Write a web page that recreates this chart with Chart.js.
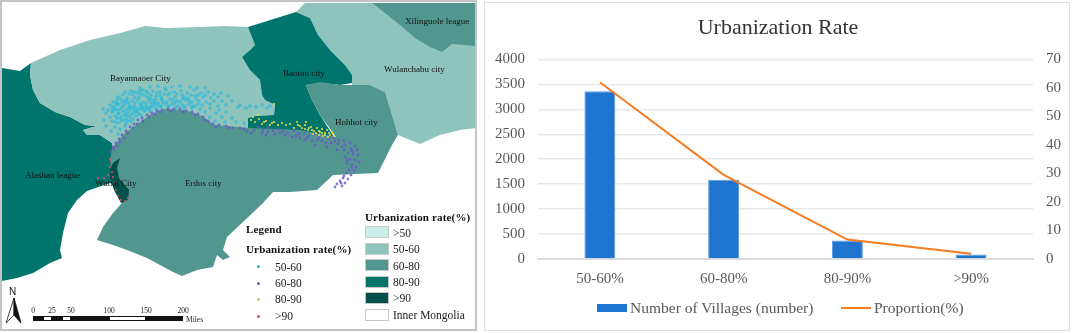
<!DOCTYPE html>
<html lang="en">
<head>
<meta charset="UTF-8">
<title>Urbanization Rate</title>
<script src="https://cdn.jsdelivr.net/npm/chart.js"></script>
<style>
    html, body { margin: 0; padding: 0; background: #fff; }
    body { width: 1072px; height: 333px; position: relative; overflow: hidden; font-family: "Liberation Serif", serif; }
    #mapBox { position: absolute; left: 0; top: 0; width: 477px; height: 331px; box-sizing: border-box; border: 2px solid #c4c4c4; }
    #chartBox { position: absolute; left: 484px; top: 2px; width: 586px; height: 329px; box-sizing: border-box; border: 1px solid #dedede; }
    canvas { position: absolute; left: 0; top: 0; }
    .t { position: absolute; transform: translateY(-50%); white-space: nowrap; color: #111; font-size: 9px; }
    .l { font-size: 11.5px; color: #222; }
    .b { font-weight: bold; font-size: 11px; color: #111; letter-spacing: .15px; }
    .sw { position: absolute; left: 365px; width: 24px; height: 12px; box-sizing: border-box; border: 1px solid #c8c8c8; }
    .dot { position: absolute; left: 257px; width: 3px; height: 3px; border-radius: 50%; }
    .seg { position: absolute; top: 316px; height: 5px; box-sizing: border-box; border: 1px solid #111; }
    .s { font-size: 7.5px; transform: translate(-50%, -50%); color: #222; }
    .g { font-size: 15.5px; color: #595959; }
</style>
</head>
<body>
<canvas id="mapChart" width="484" height="333"></canvas>
<div id="mapBox"></div>

<div class="t" style="left:110px;top:78px">Bayannaoer City</div>
<div class="t" style="left:283px;top:73px">Baotou city</div>
<div class="t" style="left:384px;top:69px">Wulanchabu city</div>
<div class="t" style="left:405px;top:21px">Xilinguole league</div>
<div class="t" style="left:335px;top:122px">Hohhot city</div>
<div class="t" style="left:25px;top:175px">Alashan league</div>
<div class="t" style="left:95px;top:183px">Wuhai City</div>
<div class="t" style="left:185px;top:183px">Erdos city</div>

<div class="t b" style="left:246px;top:229px">Legend</div>
<div class="t b" style="left:246px;top:249px">Urbanization rate(%)</div>
<div class="dot" style="top:265px;background:#19b9dc"></div><div class="t l" style="left:275px;top:267px">50-60</div>
<div class="dot" style="top:282px;background:#6a55c8"></div><div class="t l" style="left:275px;top:283px">60-80</div>
<div class="dot" style="top:298px;background:#c9c84a"></div><div class="t l" style="left:275px;top:299px">80-90</div>
<div class="dot" style="top:315px;background:#ea4a68"></div><div class="t l" style="left:275px;top:316px">&gt;90</div>

<div class="t b" style="left:365px;top:217px">Urbanization rate(%)</div>
<div class="sw" style="top:226px;background:#c9efe8"></div><div class="t l" style="left:393px;top:233px">&gt;50</div>
<div class="sw" style="top:243px;background:#8fc4bd"></div><div class="t l" style="left:393px;top:249px">50-60</div>
<div class="sw" style="top:259px;background:#52978f"></div><div class="t l" style="left:393px;top:266px">60-80</div>
<div class="sw" style="top:276px;background:#00756c"></div><div class="t l" style="left:393px;top:282px">80-90</div>
<div class="sw" style="top:292px;background:#02504a"></div><div class="t l" style="left:393px;top:298px">&gt;90</div>
<div class="sw" style="top:309px;background:#fff"></div><div class="t l" style="left:393px;top:315px">Inner Mongolia</div>

<div class="t" style="left:9px;top:291px;font-size:10px;font-family:'Liberation Sans',sans-serif">N</div>
<svg style="position:absolute;left:6px;top:298px" width="16" height="26">
    <polygon points="8,0 0,25 8,17" fill="#fff" stroke="#111" stroke-width=".8"/>
    <polygon points="8,0 15,25 8,17" fill="#111" stroke="#111" stroke-width=".8"/>
</svg>

<div class="seg" style="left:33px;width:10px;background:#111"></div>
<div class="seg" style="left:43px;width:9px;background:#fff"></div>
<div class="seg" style="left:52px;width:10px;background:#111"></div>
<div class="seg" style="left:62px;width:9px;background:#fff"></div>
<div class="seg" style="left:71px;width:38px;background:#111"></div>
<div class="seg" style="left:109px;width:37px;background:#fff"></div>
<div class="seg" style="left:146px;width:37px;background:#111"></div>
<div class="t s" style="left:33px;top:310px">0</div>
<div class="t s" style="left:52px;top:310px">25</div>
<div class="t s" style="left:71px;top:310px">50</div>
<div class="t s" style="left:109px;top:310px">100</div>
<div class="t s" style="left:146px;top:310px">150</div>
<div class="t s" style="left:183px;top:310px">200</div>
<div class="t" style="left:186px;top:319px;font-size:7.5px;color:#222">Miles</div>

<div id="chartBox"></div>
<canvas id="rateChart" width="588" height="333" style="left:484px"></canvas>

<div style="position:absolute;left:597px;top:304px;width:30px;height:8px;background:#1f74d0"></div>
<div class="t g" style="left:630px;top:308px">Number of Villages (number)</div>
<div style="position:absolute;left:841px;top:307px;width:30px;height:2px;background:#f57c1f"></div>
<div class="t g" style="left:874px;top:308px">Proportion(%)</div>

<script>
// bar + line chart
const categories = ['50-60%', '60-80%', '80-90%', '>90%'];
const villages = [3360, 1590, 370, 90];
const proportion = [62, 29.5, 6.8, 1.8];

// map regions, in map units of the picture
const alashan = [[2,68],[20,71],[31,63],[30,75],[33,90],[40,103],[55,112],[70,117],[85,125],[97,126],[83,130],[87,135],[100,135],[112,143],[115,160],[122,185],[110,183],[87,191],[77,200],[68,213],[63,233],[60,250],[62,258],[50,263],[33,273],[17,278],[2,281]];
const bayannaoer = [[31,63],[60,50],[90,40],[120,33],[145,26],[165,28],[200,27],[225,26],[248,27],[255,45],[250,50],[242,57],[250,70],[260,80],[262,95],[265,100],[275,105],[274,115],[255,116],[248,118],[248,131],[235,130],[215,130],[200,120],[185,115],[165,114],[150,120],[135,130],[125,140],[112,150],[112,143],[100,135],[87,135],[83,130],[97,126],[85,125],[70,117],[55,112],[40,103],[33,90],[30,75]];
const baotou = [[248,27],[280,17],[296,12],[310,18],[318,35],[330,50],[345,65],[352,75],[352,83],[340,85],[322,83],[306,85],[312,100],[320,115],[336,140],[300,135],[270,132],[248,132],[248,118],[255,116],[274,115],[275,105],[265,100],[262,95],[260,80],[250,70],[242,57],[250,50],[255,45]];
const wulanchabu = [[296,12],[305,3],[372,3],[476,3],[476,128],[460,130],[440,135],[420,144],[398,135],[390,108],[385,92],[370,85],[352,85],[352,75],[345,65],[330,50],[318,35],[310,18]];
const xilinguole = [[372,3],[476,3],[476,46],[452,44],[442,52],[430,47],[415,38],[400,25],[385,13]];
const erdosHohhot = [[306,85],[320,82],[340,85],[370,85],[385,92],[390,108],[398,135],[392,145],[382,165],[378,173],[333,175],[317,190],[290,192],[273,192],[263,203],[243,222],[227,237],[223,250],[230,257],[223,260],[217,255],[213,267],[197,270],[182,276],[173,272],[147,258],[127,250],[113,245],[97,240],[103,227],[113,213],[122,203],[115,185],[110,160],[112,148],[125,133],[150,115],[165,109],[185,110],[200,115],[215,125],[250,128],[300,130],[336,137],[320,115],[312,100]];
const wuhai = [[110,170],[113,163],[120,158],[117,168],[119,178],[129,190],[128,200],[121,203],[114,190],[110,178]];

// village points
const dots5060 = [[140,88],[150,87],[158,86],[165,88],[172,87],[180,86],[190,87],[197,88],[205,88],
    [125,92],[131,91],[137,93],[143,90],[148,93],[153,91],[160,92],[166,90],[174,92],[181,91],[187,93],[194,90],[201,93],[208,92],[214,94],[221,93],
    [118,97],[123,95],[127,98],[133,95],[139,97],[144,95],[150,98],[156,96],[162,98],[168,95],[175,97],[182,95],[188,98],[195,96],[203,97],[211,98],[218,97],[228,96],
    [113,102],[117,100],[122,102],[127,100],[132,101],[138,100],[143,102],[149,100],[155,102],[161,100],[167,102],[173,100],[180,102],[186,100],[192,102],[199,101],[206,102],[214,101],[222,101],[232,101],
    [110,105],[114,106],[119,104],[124,105],[129,103],[134,106],[140,104],[146,106],[151,103],[157,105],[163,104],[169,106],[175,103],[182,105],[189,104],[195,106],[202,105],[210,104],[218,106],[226,105],[240,105],[250,106],[262,105],[270,106],
    [103,109],[112,108],[117,110],[122,107],[127,109],[132,108],[138,110],[143,107],[149,109],[155,108],[161,107],[168,107],[176,107],[184,108],[192,108],[200,109],[210,108],[219,110],[238,107],[246,108],[256,107],[267,108],
    [106,113],[112,112],[118,114],[123,111],[128,113],[134,112],[139,114],[144,111],[150,111],[157,110],[205,112],[216,113],[226,112],
    [110,117],[115,116],[120,118],[125,115],[130,117],[136,116],[141,115],[210,117],[222,117],[232,118],
    [104,120],[112,121],[118,123],[123,120],[128,121],[133,119],[215,121],[225,122],[236,122],[244,123],
    [106,126],[115,127],[120,129],[125,126],[118,134],[111,131],
    [116,103],[121,99],[126,103],[130,106],[135,103],[120,109],[125,112],[130,110],[136,108],[141,105],[146,103],[135,98],[141,94],[147,97],[153,100],[158,103],
    [115,109],[119,113],[122,116],[127,116],[132,114],[137,112],[142,109],[147,108],[152,106],[156,99],[160,96],[164,94],[170,93],[177,94],[184,97],[191,95],[198,95],[205,95],
    [129,94],[134,92],[140,91],[146,91],[151,95],[157,93],[163,101],[170,99],[177,101],[183,99],[189,101],[196,99],[124,101],[129,107],[135,110],[140,108],[145,110],[150,107],[154,104],[160,106],[166,104],[172,104],[178,106],[185,106],[192,106],[198,104],
    [117,105],[113,111],[117,118],[121,121],[126,119],[131,121],[126,123],[115,122],[108,110]];
const dots6080 = [[111,152],[113,147],[116,143],[119,139],[122,135],[126,131],[130,127],[134,124],[138,120],[142,118],[147,115],[152,113],[157,111],[162,110],[168,109],[174,109],[180,109],[186,111],[192,112],[198,114],[203,117],[208,121],[213,124],[219,125],[226,126],[233,128],[240,128],[247,131],[254,130],
    [258,127],[263,130],[268,128],[273,131],[278,129],[283,131],[288,133],[294,131],[299,134],[304,133],[309,136],[314,134],[319,138],[324,136],[329,139],[334,138],[339,140],[344,141],
    [305,140],[312,141],[300,138],[322,141],[331,143],[338,144],[345,145],[350,143],[355,146],[351,149],[357,150],[344,150],[348,153],[353,154],[358,155],[345,157],[350,159],[355,160],[359,162],[347,163],[352,165],[356,167],[349,170],[354,171],[346,173],[351,175],[343,178],[348,179],[340,181],[345,183],[337,184],[342,186],[335,187],
    [275,134],[285,135],[292,137],[268,132],[262,133],[315,145],[327,147],[337,150],
    [114,149],[117,146],[120,142],[124,138],[128,133],[133,128],[137,124],[143,121],[149,117],[155,114],[160,112],[171,111],[183,112],[195,115],[205,120],[216,127],[229,128],[244,129],[251,133],[266,135],[280,133],[296,136],[307,138],[317,140],[326,143],[335,141],[342,147],[352,151],[347,160],[352,168],[344,176],[341,183]];
const dots8090 = [[251,120],[255,122],[259,119],[262,124],[266,121],[270,125],[274,122],[278,125],[282,123],[286,125],[290,124],[294,128],[298,125],[302,128],[305,125],[308,130],[311,127],[314,131],[317,128],[320,132],[322,129],[325,133],[327,130],[330,135],[332,132],[334,136],[319,135],[313,134],[323,136],[328,137],[253,117],[258,115],[306,122],[297,122],[274,104],
    [305,129],[309,128],[312,130],[316,133],[319,131],[322,133],[325,135],[329,133],[333,134],[300,126],[272,123],[264,122]];
const dots90 = [[111,162],[110,167],[112,172],[113,177],[108,175],[114,183],[116,190],[118,196],[121,200],[125,201],[128,198],[104,178],[98,178],[110,159]];

// fills each region dataset with its own scaled points
const regionFill = {
    id: 'regionFill',
    beforeDatasetDraw(chart, args) {
        const color = chart.data.datasets[args.index].regionColor;
        if (!color) return;
        const ctx = chart.ctx;
        ctx.save();
        ctx.fillStyle = color;
        ctx.beginPath();
        args.meta.data.forEach((pt, i) => {
            if (i === 0) ctx.moveTo(pt.x, pt.y);
            else ctx.lineTo(pt.x, pt.y);
        });
        ctx.closePath();
        ctx.fill();
        ctx.restore();
    }
};

function region(points, color) {
    return { data: points.map(p => ({ x: p[0], y: p[1] })), regionColor: color, pointRadius: 0, showLine: false };
}

function villagesDots(points, color, radius) {
    return { data: points.map(p => ({ x: p[0], y: p[1] })), backgroundColor: color, borderWidth: 0, pointRadius: radius };
}

new Chart(document.getElementById('mapChart'), {
    type: 'scatter',
    plugins: [regionFill],
    data: {
        datasets: [
            villagesDots(dots90, '#ea4a68', 1),
            villagesDots(dots8090, '#e3d84e', 1.1),
            villagesDots(dots6080, 'rgba(106,85,200,.8)', 1.4),
            villagesDots(dots5060, 'rgba(25,185,225,.6)', 1.8),
            region(wuhai, '#02504a'),
            region(erdosHohhot, '#52978f'),
            region(xilinguole, '#52978f'),
            region(baotou, '#00756c'),
            region(wulanchabu, '#8fc4bd'),
            region(bayannaoer, '#8fc4bd'),
            region(alashan, '#00756c')
        ]
    },
    options: {
        responsive: false,
        animation: false,
        layout: { padding: 0, autoPadding: false },
        plugins: { legend: { display: false }, tooltip: { enabled: false } },
        scales: {
            x: { display: false, min: 0, max: 484 },
            y: { display: false, min: 0, max: 333, reverse: true }
        }
    }
});

new Chart(document.getElementById('rateChart'), {
    data: {
        labels: categories,
        datasets: [
            {
                type: 'line', label: 'Proportion(%)', data: proportion, yAxisID: 'y2', order: 0,
                borderColor: '#f57c1f', backgroundColor: '#f57c1f', borderWidth: 2, pointRadius: 0, tension: 0
            },
            {
                type: 'bar', label: 'Number of Villages (number)', data: villages, yAxisID: 'y', order: 1,
                backgroundColor: '#1f74d0', borderColor: '#5b9be0', borderWidth: 1,
                barPercentage: 0.25, categoryPercentage: 1
            }
        ]
    },
    options: {
        responsive: false,
        animation: false,
        layout: { padding: { top: 15, bottom: 42 } },
        plugins: {
            tooltip: { enabled: false },
            legend: { display: false },
            title: {
                display: true, text: 'Urbanization Rate', color: '#333',
                font: { family: 'Liberation Serif', size: 22, weight: 'normal' },
                padding: { top: 0, bottom: 18 }
            }
        },
        scales: {
            x: {
                grid: { display: false },
                border: { color: '#dcdcdc', width: 2 },
                ticks: { color: '#595959', font: { family: 'Liberation Serif', size: 15 }, padding: 3, autoSkip: false, maxRotation: 0 }
            },
            y: {
                min: 0, max: 4000,
                grid: { color: '#e8e8e8', lineWidth: 1.5, tickLength: 0 },
                border: { display: false },
                ticks: { stepSize: 500, color: '#595959', font: { family: 'Liberation Serif', size: 15 }, padding: 13, callback: v => String(v) },
                afterFit: s => { s.width = 54; }
            },
            y2: {
                position: 'right', min: 0, max: 70,
                grid: { display: false },
                border: { display: false },
                ticks: { stepSize: 10, color: '#595959', font: { family: 'Liberation Serif', size: 15 }, padding: 5 },
                afterFit: s => { s.width = 39; }
            }
        }
    }
});
</script>
</body>
</html>
